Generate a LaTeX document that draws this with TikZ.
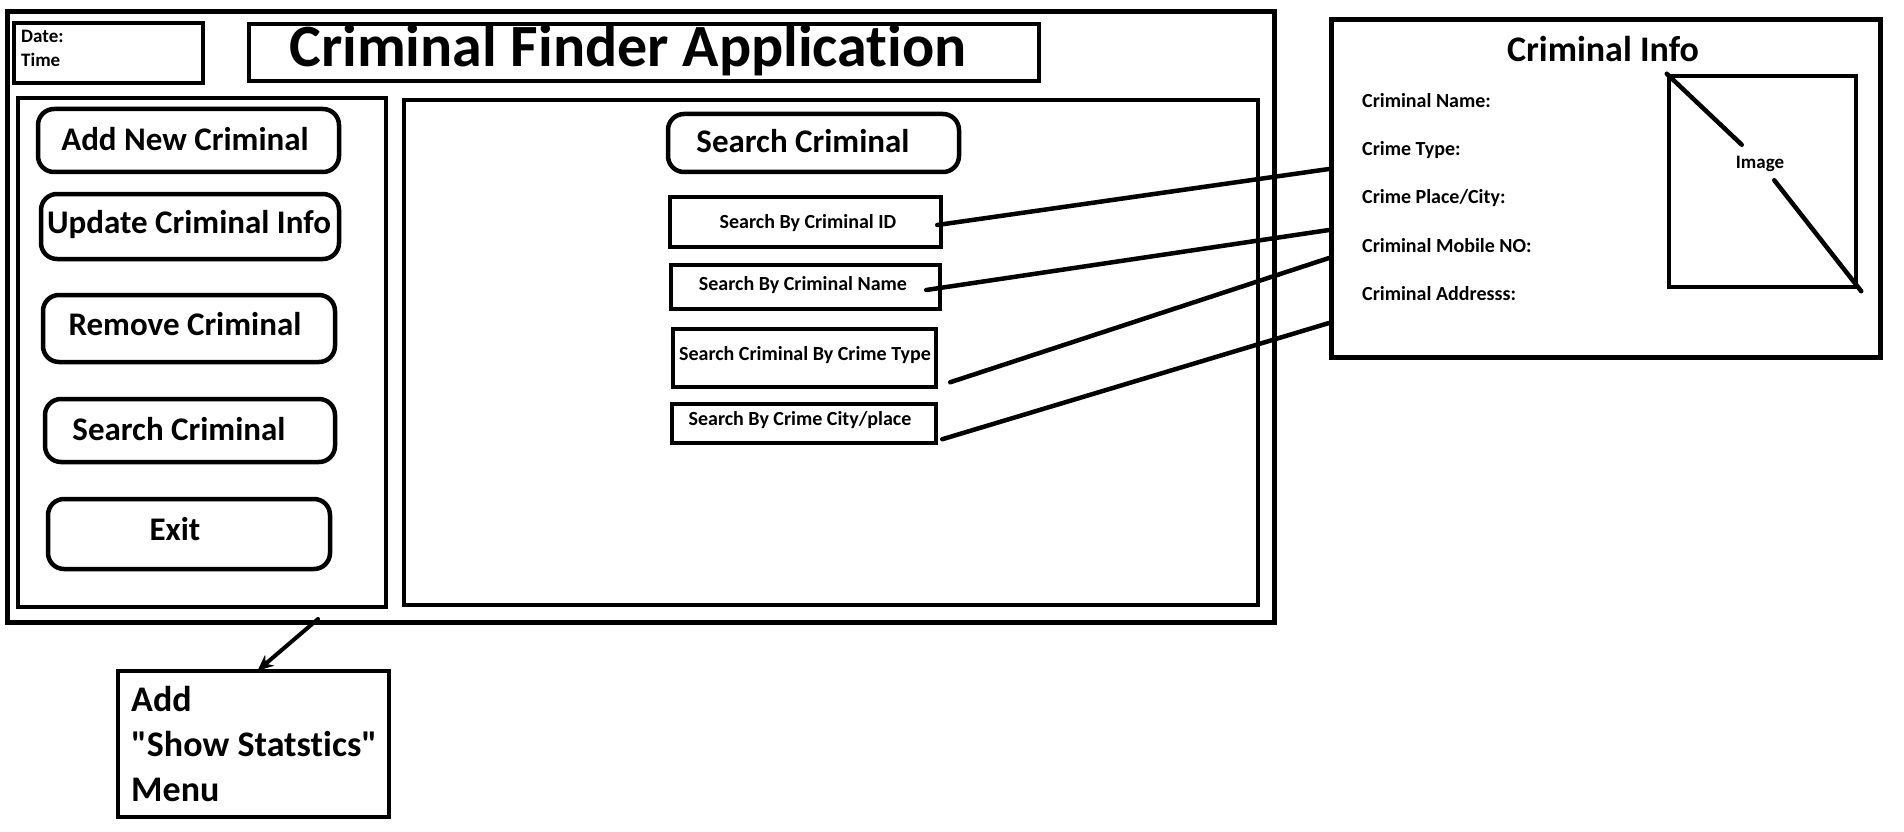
\documentclass[tikz,border=0pt]{standalone}
\usepackage{fontspec}
\setmainfont{Carlito}[Ligatures={NoCommon}]
\newfontfamily\carlito{Carlito}[Ligatures={NoCommon}]
\usetikzlibrary{calc,arrows.meta}
\tikzset{
  box/.style={draw, line width=4.5pt, inner sep=0pt},
  thickbox/.style={draw, line width=5pt, inner sep=0pt},
  btn/.style={draw, line width=4.5pt, inner sep=0pt, rounded corners=16pt},
  txt/.style={font=\carlito\fontsize{#1pt}{#1pt}\selectfont\bfseries, inner sep=0pt},
  conn/.style={line width=4.5pt, line cap=round},
}
\begin{document}
\begin{tikzpicture}[x=1pt,y=-1pt]
\fill[white] (0,0) rectangle (1904,832);
\useasboundingbox (0,0) rectangle (1904,832);

% main window
\node[thickbox, minimum width=1267pt, minimum height=610pt] (outer) at (640.5,317) {};
\node[box, minimum width=189pt, minimum height=60pt] (datebox) at (108.5,53) {};
\node[box, minimum width=790pt, minimum height=57pt] (titlebox) at (644,52.5) {};
\node[box, minimum width=368pt, minimum height=509pt] (leftpanel) at (202,352.5) {};
\node[box, minimum width=854pt, minimum height=505pt] (rightpanel) at (831,352.5) {};

\node[txt=19, anchor=base west] (date) at (21,43) {Date:};
\node[txt=19, anchor=base west] (time) at (21,67) {Time};
\node[txt=60, anchor=base] (title) at (628,67) {Criminal Finder Application};

% left menu buttons
\node[btn, minimum width=301pt, minimum height=63pt] (add) at (188.5,140.5) {};
\node[btn, minimum width=298pt, minimum height=65pt] (update) at (190,226.5) {};
\node[btn, minimum width=292pt, minimum height=67pt] (remove) at (189,328.5) {};
\node[btn, minimum width=290pt, minimum height=63pt] (search) at (190,430.5) {};
\node[btn, minimum width=282pt, minimum height=70pt] (exit) at (189,534) {};

\node[txt=33, anchor=base] (addt) at (185,150) {Add New Criminal};
\node[txt=33, anchor=base] (updatet) at (189,233) {Update Criminal Info};
\node[txt=33, anchor=base] (removet) at (185,335) {Remove Criminal};
\node[txt=33, anchor=base] (searcht) at (179,440) {Search Criminal};
\node[txt=33, anchor=base] (exitt) at (175,540) {Exit};

% search panel
\node[btn, minimum width=291pt, minimum height=58pt] (smain) at (813.5,143) {};
\node[txt=33, anchor=base] (smaint) at (803,153) {Search Criminal};

\node[box, minimum width=271pt, minimum height=50pt] (sid) at (805.5,222) {};
\node[box, minimum width=269pt, minimum height=44pt] (sname) at (805.5,287) {};
\node[box, minimum width=263pt, minimum height=58pt] (stype) at (804.5,358) {};
\node[box, minimum width=264pt, minimum height=39pt] (scity) at (804,423.5) {};

\node[txt=20, anchor=base] (sidt) at (808,228) {Search By Criminal ID};
\node[txt=20, anchor=base] (snamet) at (803,290) {Search By Criminal Name};
\node[txt=20, anchor=base] (stypet) at (805,360) {Search Criminal By Crime Type};
\node[txt=20, anchor=base] (scityt) at (800,425) {Search By Crime City/place};

% criminal info window
\node[thickbox, minimum width=549pt, minimum height=337pt] (info) at (1605.5,188.5) {};
\node[txt=36, anchor=base] (infot) at (1603,62) {Criminal Info};
\node[txt=20, anchor=base west] (l1) at (1362,108) {Criminal Name:};
\node[txt=20, anchor=base west] (l2) at (1362,156) {Crime Type:};
\node[txt=20, anchor=base west] (l3) at (1362,204) {Crime Place/City:};
\node[txt=20, anchor=base west] (l4) at (1362,252) {Criminal Mobile NO:};
\node[txt=20, anchor=base west] (l5) at (1362,300) {Criminal Addresss:};

\node[box, minimum width=187pt, minimum height=211pt] (image) at (1762.5,181.5) {};
\node[txt=19, anchor=base] (imaget) at (1760,168) {Image};
\draw[conn] (image.north west) -- ($(image.north west)+(75,71)$);
\draw[conn] ($(image.south east)+(-84,-109)$) -- ($(image.south east)+(3,2)$);

% connectors
\coordinate (ci1) at (1329,169);
\coordinate (ci2) at (1329,230);
\coordinate (ci3) at (1329,258);
\coordinate (ci4) at (1329,323);
\draw[conn] ($(sid.east)+(-6,3)$) -- (ci1);
\draw[conn] ($(sname.east)+(-16,3)$) -- (ci2);
\draw[conn] ($(stype.south east)+(12,-7)$) -- (ci3);
\draw[conn] ($(scity.south east)+(4,-6)$) -- (ci4);

% show statistics note
\node[box, minimum width=271pt, minimum height=146pt] (addbox) at (253.5,744) {};
\node[txt=36, anchor=base west] (a1) at (131,711) {Add};
\node[txt=36, anchor=base west] (a2) at (131,756) {"Show Statstics"};
\node[txt=36, anchor=base west] (a3) at (131,801) {Menu};
\coordinate (arrs) at (318,619);
\draw[line width=4pt, line cap=round, -{Stealth[length=16pt,width=14pt]}] (arrs) -- ($(addbox.north)+(4,2)$);
\end{tikzpicture}
\end{document}
